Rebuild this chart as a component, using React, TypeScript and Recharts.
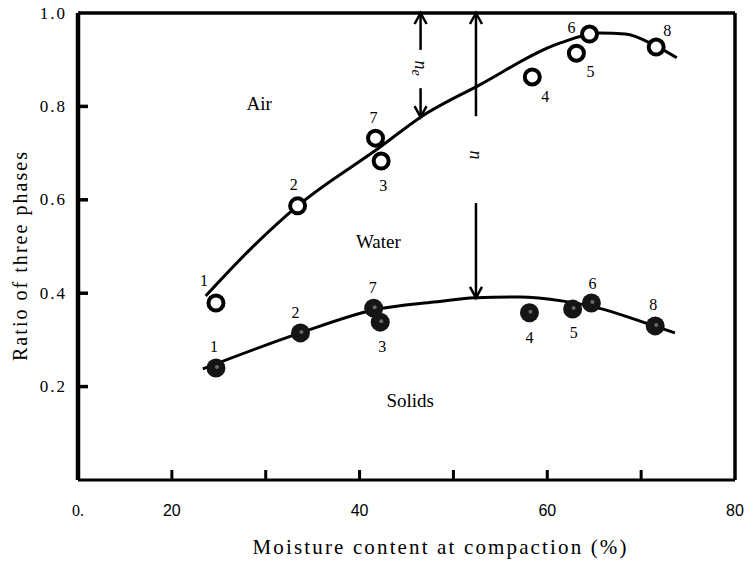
import {
  ComposedChart,
  Line,
  Scatter,
  XAxis,
  YAxis,
  ReferenceLine,
  ReferenceDot,
} from 'recharts'

// sample numbers, in the order they sit along the curves
const sampleIds = [1, 2, 7, 3, 4, 5, 6, 8]

// upper boundary (solids + water), open circles
const voidMoisture = [24.7, 33.4, 41.7, 42.3, 58.4, 63.1, 64.5, 71.6]
const voidRatio = [0.379, 0.587, 0.732, 0.683, 0.863, 0.914, 0.955, 0.927]

// lower boundary (solids), filled circles
const solidMoisture = [24.7, 33.7, 41.5, 42.2, 58.1, 62.7, 64.7, 71.5]
const solidRatio = [0.24, 0.315, 0.368, 0.338, 0.358, 0.366, 0.379, 0.33]

// hand drawn fitted curves
const upperCurveX = [23.6, 28.4, 33.4, 42.2, 46.5, 52.6, 61.4, 65.6, 68.3, 71.6, 73.8]
const upperCurveY = [0.394, 0.495, 0.587, 0.713, 0.777, 0.844, 0.936, 0.957, 0.955, 0.929, 0.904]
const lowerCurveX = [23.3, 33.7, 41.5, 47.9, 52.4, 57.1, 61.7, 65.9, 70.2, 73.6]
const lowerCurveY = [0.238, 0.315, 0.364, 0.381, 0.39, 0.392, 0.383, 0.366, 0.338, 0.315]

const xTicks = [10, 20, 30, 40, 50, 60, 70, 80]
const xTickLabels = ['0.', '20', '', '40', '', '60', '', '80']
const xTickMarks = [20, 30, 40, 50, 60, 70]
const yTicks = [0, 0.2, 0.4, 0.6, 0.8, 1.0]
const yTickLabels = ['', '0.2', '0.4', '0.6', '0.8', '1.0']
const yTickMarks = [0.2, 0.4, 0.6, 0.8]

// n_e and n arrows
const neX = 46.5
const nX = 52.4

const voidPts = sampleIds.map((id, i) => ({ id, x: voidMoisture[i], y: voidRatio[i] }))
const solidPts = sampleIds.map((id, i) => ({ id, x: solidMoisture[i], y: solidRatio[i] }))
const upperCurve = upperCurveX.map((x, i) => ({ x, y: upperCurveY[i] }))
const lowerCurve = lowerCurveX.map((x, i) => ({ x, y: lowerCurveY[i] }))

const serif = '"Liberation Serif", "DejaVu Serif", serif'
const sans = '"Liberation Sans", Arial, sans-serif'

// where each sample number sits relative to its circle
const voidLabelOffset: Record<number, [number, number]> = {
  1: [-12, -23], 2: [-4, -21], 7: [-2, -21], 3: [2, 24],
  4: [13, 20], 5: [14, 18], 6: [-18, -7], 8: [11, -17],
}
const solidLabelOffset: Record<number, [number, number]> = {
  1: [-2, -21], 2: [-5, -20], 7: [-1, -21], 3: [2, 24],
  4: [0, 25], 5: [1, 23], 6: [1, -20], 8: [-2, -21],
}

function PointLabel({ x, y, text }: { x: number; y: number; text: number }) {
  return (
    <text x={x} y={y} textAnchor="middle" dominantBaseline="central"
      fontFamily={serif} fontSize={16} fill="#000">
      {text}
    </text>
  )
}

function OpenCircle(props: any) {
  const { cx, cy, payload } = props
  const [dx, dy] = voidLabelOffset[payload.id] || [0, -20]
  return (
    <g>
      <circle cx={cx} cy={cy} r={7.5} fill="#fff" stroke="#000" strokeWidth={4} />
      <PointLabel x={cx + dx} y={cy + dy} text={payload.id} />
    </g>
  )
}

function FilledCircle(props: any) {
  const { cx, cy, payload } = props
  const [dx, dy] = solidLabelOffset[payload.id] || [0, -20]
  return (
    <g>
      <circle cx={cx} cy={cy} r={9.5} fill="#151515" />
      <circle cx={cx + 1} cy={cy - 1} r={2} fill="#6a6a6a" />
      <PointLabel x={cx + dx} y={cy + dy} text={payload.id} />
    </g>
  )
}

function XTick(props: any) {
  const { x, y, payload } = props
  const v = payload.value
  const i = xTicks.indexOf(v)
  return (
    <text x={x} y={y + 30} textAnchor="middle" dominantBaseline="central"
      fontFamily={v === 10 ? serif : sans} fontSize={16} fill="#000">
      {xTickLabels[i]}
    </text>
  )
}

function YTick(props: any) {
  const { x, y, payload } = props
  const i = yTicks.indexOf(payload.value)
  return (
    <text x={x - 11} y={y} textAnchor="end" dominantBaseline="central"
      fontFamily={serif} fontSize={17} letterSpacing={2} fill="#000">
      {yTickLabels[i]}
    </text>
  )
}

// short inward tick marks on the bottom and left frame
function TickUp(props: any) {
  const { x1, y1, y2 } = props
  const yb = Math.max(y1, y2)
  return <line x1={x1} x2={x1} y1={yb} y2={yb - 10} stroke="#000" strokeWidth={3} />
}

function TickRight(props: any) {
  const { x1, x2, y1 } = props
  const xl = Math.min(x1, x2)
  return <line x1={xl} x2={xl + 10} y1={y1} y2={y1} stroke="#000" strokeWidth={3.5} />
}

function Arrow(props: any) {
  const { x1, y1, x2, y2 } = props
  const dir = y2 > y1 ? 1 : -1
  return (
    <g>
      <line x1={x1} y1={y1} x2={x2} y2={y2} stroke="#000" strokeWidth={2.5} />
      <polyline
        points={`${x2 - 6},${y2 - dir * 11} ${x2},${y2} ${x2 + 6},${y2 - dir * 11}`}
        fill="none" stroke="#000" strokeWidth={2.5}
      />
    </g>
  )
}

const regionText = (label: string) => (p: any) => (
  <text x={p.cx} y={p.cy} textAnchor="middle" dominantBaseline="central"
    fontFamily={serif} fontSize={19} fill="#000">
    {label}
  </text>
)

const nLabel = (sub: boolean) => (p: any) => (
  <text x={p.cx} y={p.cy} textAnchor="middle" dominantBaseline="central"
    transform={`rotate(90 ${p.cx} ${p.cy})`}
    fontFamily={serif} fontStyle="italic" fontSize={18} fill="#000">
    n
    {sub && <tspan fontSize={14} dy={4}>e</tspan>}
  </text>
)

export default function App() {
  return (
    <div style={{ position: 'absolute', left: 0, top: 0, background: '#fff' }}>
      <ComposedChart width={749} height={562} margin={{ top: 0, right: 0, bottom: 0, left: 0 }}>
        <XAxis
          type="number"
          dataKey="x"
          domain={[10, 80]}
          ticks={xTicks}
          allowDataOverflow
          height={82}
          axisLine={{ stroke: '#000', strokeWidth: 3 }}
          tickLine={false}
          tickSize={0}
          tickMargin={0}
          tick={<XTick />}
          interval={0}
          label={{
            content: (p: any) => (
              <text
                x={p.viewBox.x + p.viewBox.width / 2 + 33}
                y={p.viewBox.y + 67}
                textAnchor="middle"
                dominantBaseline="central"
                fontFamily={serif}
                fontSize={21}
                textLength={374}
                lengthAdjust="spacing"
                fill="#000"
              >
                Moisture content at compaction (%)
              </text>
            ),
          }}
        />
        <XAxis
          xAxisId="top"
          orientation="top"
          type="number"
          domain={[10, 80]}
          height={13}
          tick={false}
          tickLine={false}
          axisLine={{ stroke: '#000', strokeWidth: 3.5 }}
        />
        <YAxis
          type="number"
          dataKey="y"
          domain={[0, 1]}
          ticks={yTicks}
          allowDataOverflow
          width={78}
          axisLine={{ stroke: '#000', strokeWidth: 4.5 }}
          tickLine={false}
          tickSize={0}
          tickMargin={0}
          tick={<YTick />}
          interval={0}
          label={{
            content: (p: any) => {
              const cx = p.viewBox.x + 20
              const cy = p.viewBox.y + p.viewBox.height / 2 + 10
              return (
                <text
                  x={cx}
                  y={cy}
                  transform={`rotate(-90 ${cx} ${cy})`}
                  textAnchor="middle"
                  dominantBaseline="central"
                  fontFamily={serif}
                  fontSize={20}
                  textLength={209}
                  lengthAdjust="spacing"
                  fill="#000"
                >
                  Ratio of three phases
                </text>
              )
            },
          }}
        />
        <YAxis
          yAxisId="right"
          orientation="right"
          type="number"
          domain={[0, 1]}
          width={14}
          tick={false}
          tickLine={false}
          axisLine={{ stroke: '#000', strokeWidth: 3.5 }}
        />

        {xTickMarks.map((v) => (
          <ReferenceLine key={`xt${v}`} x={v} shape={TickUp} />
        ))}
        {yTickMarks.map((v) => (
          <ReferenceLine key={`yt${v}`} y={v} shape={TickRight} />
        ))}

        <Line data={upperCurve} dataKey="y" type="monotone" stroke="#000" strokeWidth={3}
          dot={false} activeDot={false} isAnimationActive={false} />
        <Line data={lowerCurve} dataKey="y" type="monotone" stroke="#000" strokeWidth={3}
          dot={false} activeDot={false} isAnimationActive={false} />

        <ReferenceLine ifOverflow="visible" segment={[{ x: neX, y: 0.921 }, { x: neX, y: 1.0 }]} shape={Arrow} />
        <ReferenceLine ifOverflow="visible" segment={[{ x: neX, y: 0.839 }, { x: neX, y: 0.777 }]} shape={Arrow} />
        <ReferenceLine ifOverflow="visible" segment={[{ x: nX, y: 0.779 }, { x: nX, y: 1.0 }]} shape={Arrow} />
        <ReferenceLine ifOverflow="visible" segment={[{ x: nX, y: 0.593 }, { x: nX, y: 0.39 }]} shape={Arrow} />

        <ReferenceDot ifOverflow="visible" x={neX} y={0.882} r={0} shape={nLabel(true)} />
        <ReferenceDot ifOverflow="visible" x={nX} y={0.696} r={0} shape={nLabel(false)} />
        <ReferenceDot ifOverflow="visible" x={29.3} y={0.807} r={0} shape={regionText('Air')} />
        <ReferenceDot ifOverflow="visible" x={42.0} y={0.51} r={0} shape={regionText('Water')} />
        <ReferenceDot ifOverflow="visible" x={45.4} y={0.171} r={0} shape={regionText('Solids')} />

        <Scatter data={voidPts} shape={<OpenCircle />} isAnimationActive={false} />
        <Scatter data={solidPts} shape={<FilledCircle />} isAnimationActive={false} />
      </ComposedChart>
    </div>
  )
}
